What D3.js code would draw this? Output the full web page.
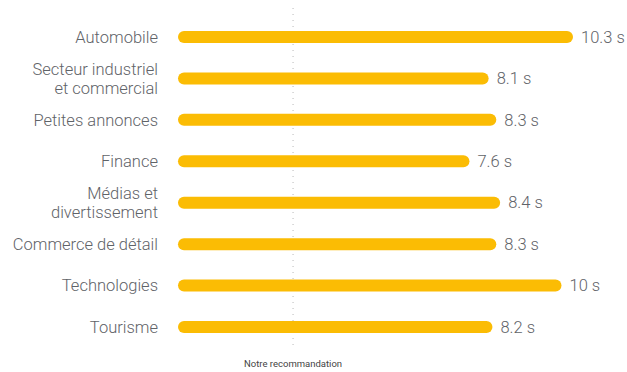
<!DOCTYPE html>
<html>
<head>
<meta charset="utf-8">
<script src="https://cdn.jsdelivr.net/npm/d3@7"></script>
<style>
  body { margin: 0; background: #fff; }
  svg { display: block; font-family: Roboto, "Noto Sans", sans-serif; }
</style>
</head>
<body>
<svg id="chart" width="627" height="372"></svg>
<script>
// categories, one entry per line of the label
var categories = [
    ["Automobile"],
    ["Secteur industriel", "et commercial"],
    ["Petites annonces"],
    ["Finance"],
    ["Médias et", "divertissement"],
    ["Commerce de détail"],
    ["Technologies"],
    ["Tourisme"]
];
var values = [10.3, 8.1, 8.3, 7.6, 8.4, 8.3, 10, 8.2];
var valueLabels = ["10.3 s", "8.1 s", "8.3 s", "7.6 s", "8.4 s", "8.3 s", "10 s", "8.2 s"];
var recommendation = 3;
var recommendationLabel = "Notre recommandation";

var barColor = "#fbbc04";
var textColor = "#5f6368";
var barHeight = 12;
var fontSize = 16.5;

var svg = d3.select("#chart");

var x = d3.scaleLinear()
    .domain([0, 10.3])
    .range([178, 573]);

var y = d3.scalePoint()
    .domain(d3.range(categories.length))
    .range([37, 327]);

// dotted recommendation line
svg.append("line")
    .attr("x1", x(recommendation))
    .attr("x2", x(recommendation))
    .attr("y1", 8)
    .attr("y2", 346)
    .attr("stroke", "#b8b8b8")
    .attr("stroke-width", 1)
    .attr("stroke-dasharray", "1,5");

svg.append("text")
    .attr("x", x(recommendation))
    .attr("y", 367)
    .attr("text-anchor", "middle")
    .attr("font-size", 9.5)
    .attr("fill", "#444")
    .text(recommendationLabel);

var rows = svg.selectAll("g.row")
    .data(values)
    .join("g")
    .attr("class", "row")
    .attr("transform", (d, i) => `translate(0,${y(i)})`);

rows.append("rect")
    .attr("x", x(0))
    .attr("y", -barHeight / 2)
    .attr("width", d => x(d) - x(0))
    .attr("height", barHeight)
    .attr("rx", barHeight / 2)
    .attr("fill", barColor);

rows.append("text")
    .attr("x", d => x(d) + 8)
    .attr("dy", "0.35em")
    .attr("font-size", fontSize)
    .attr("font-weight", 300)
    .attr("fill", textColor)
    .text((d, i) => valueLabels[i]);

// category labels, right aligned
rows.append("text")
    .attr("text-anchor", "end")
    .attr("font-size", fontSize)
    .attr("font-weight", 300)
    .attr("fill", textColor)
    .each(function (d, i) {
        var lines = categories[i];
        var lh = 19;
        var start = -(lines.length - 1) * lh / 2;
        d3.select(this).selectAll("tspan")
            .data(lines)
            .join("tspan")
            .attr("x", 158)
            .attr("y", (l, j) => start + j * lh)
            .attr("dy", "0.35em")
            .text(l => l);
    });
</script>
</body>
</html>
